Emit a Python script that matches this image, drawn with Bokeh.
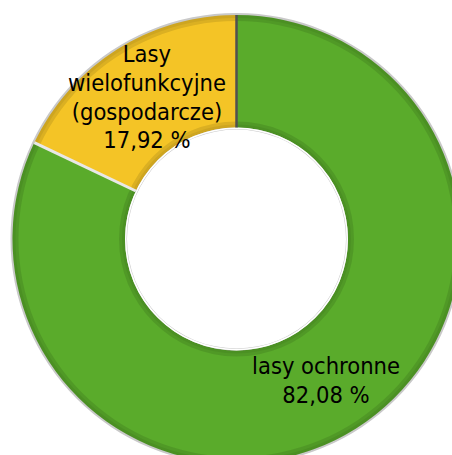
import math
from bokeh.plotting import figure
from bokeh.models import Range1d, ColumnDataSource
from bokeh.core.properties import value
from bokeh.embed import file_html
from bokeh.resources import INLINE

# ---- data ----
categories = ["lasy ochronne", "Lasy\nwielofunkcyjne\n(gospodarcze)"]
shares = [82.08, 17.92]
value_labels = ["82,08 %", "17,92 %"]
colors = ["#5aab2b", "#f4c426"]

W, H = 452, 455
CX, CY = 236, H - 238.5
R_OUT, R_IN = 224, 111.5

p = figure(width=W, height=H, output_backend="svg", toolbar_location=None,
           x_range=Range1d(0, W), y_range=Range1d(0, H), min_border=0)
p.axis.visible = False
p.grid.visible = False
p.outline_line_color = None
p.background_fill_color = "white"
p.border_fill_color = "white"

# angles: start at 12 o'clock, green clockwise, yellow last
total = sum(shares)
starts, ends = [], []
ang = math.pi / 2
for s in shares:
    sweep = 2 * math.pi * s / total
    ends.append(ang)
    starts.append(ang - sweep)
    ang -= sweep

src = ColumnDataSource(dict(start=starts, end=ends, color=colors,
                            x=[CX] * len(shares), y=[CY] * len(shares)))

# outer grey rim
p.annulus(x=CX, y=CY, inner_radius=R_IN - 2, outer_radius=R_OUT + 2,
          fill_color="#c9c9c9", line_color=None)
# slices
p.annular_wedge(x="x", y="y", inner_radius=R_IN, outer_radius=R_OUT,
                start_angle="start", end_angle="end", color="color",
                line_color=None, source=src)
# bevel shading near edges
for a, w in [(0.10, 6), (0.06, 3)]:
    p.annulus(x=CX, y=CY, inner_radius=R_OUT - w, outer_radius=R_OUT,
              fill_color="black", fill_alpha=a, line_color=None)
    p.annulus(x=CX, y=CY, inner_radius=R_IN, outer_radius=R_IN + w,
              fill_color="black", fill_alpha=a, line_color=None)
# highlight on inner rim
p.annulus(x=CX, y=CY, inner_radius=R_IN - 1.5, outer_radius=R_IN,
          fill_color="white", line_color=None)

# separators: top (dark), left (light)
for a_sep, c, w in [(ends[0], "#505050", 2.5), (starts[0], "#e8e8e8", 3)]:
    p.segment(x0=CX + R_IN * math.cos(a_sep), y0=CY + R_IN * math.sin(a_sep),
              x1=CX + R_OUT * math.cos(a_sep), y1=CY + R_OUT * math.sin(a_sep),
              line_color=c, line_width=w)

# labels at mid-angle, middle radius
r_mid = (R_OUT + R_IN) / 2
lx = [CX + r_mid * math.cos((s + e) / 2) for s, e in zip(starts, ends)]
ly = [CY + r_mid * math.sin((s + e) / 2) for s, e in zip(starts, ends)]
texts = [c + "\n" + v for c, v in zip(categories, value_labels)]
p.text(x=lx, y=ly, text=texts, text_align="center", text_baseline="middle",
       text_font=value("DejaVu Sans Condensed"), text_font_size="23.5px",
       text_line_height=1.03, text_color="black")

open("out.html", "w").write(file_html(p, INLINE))
